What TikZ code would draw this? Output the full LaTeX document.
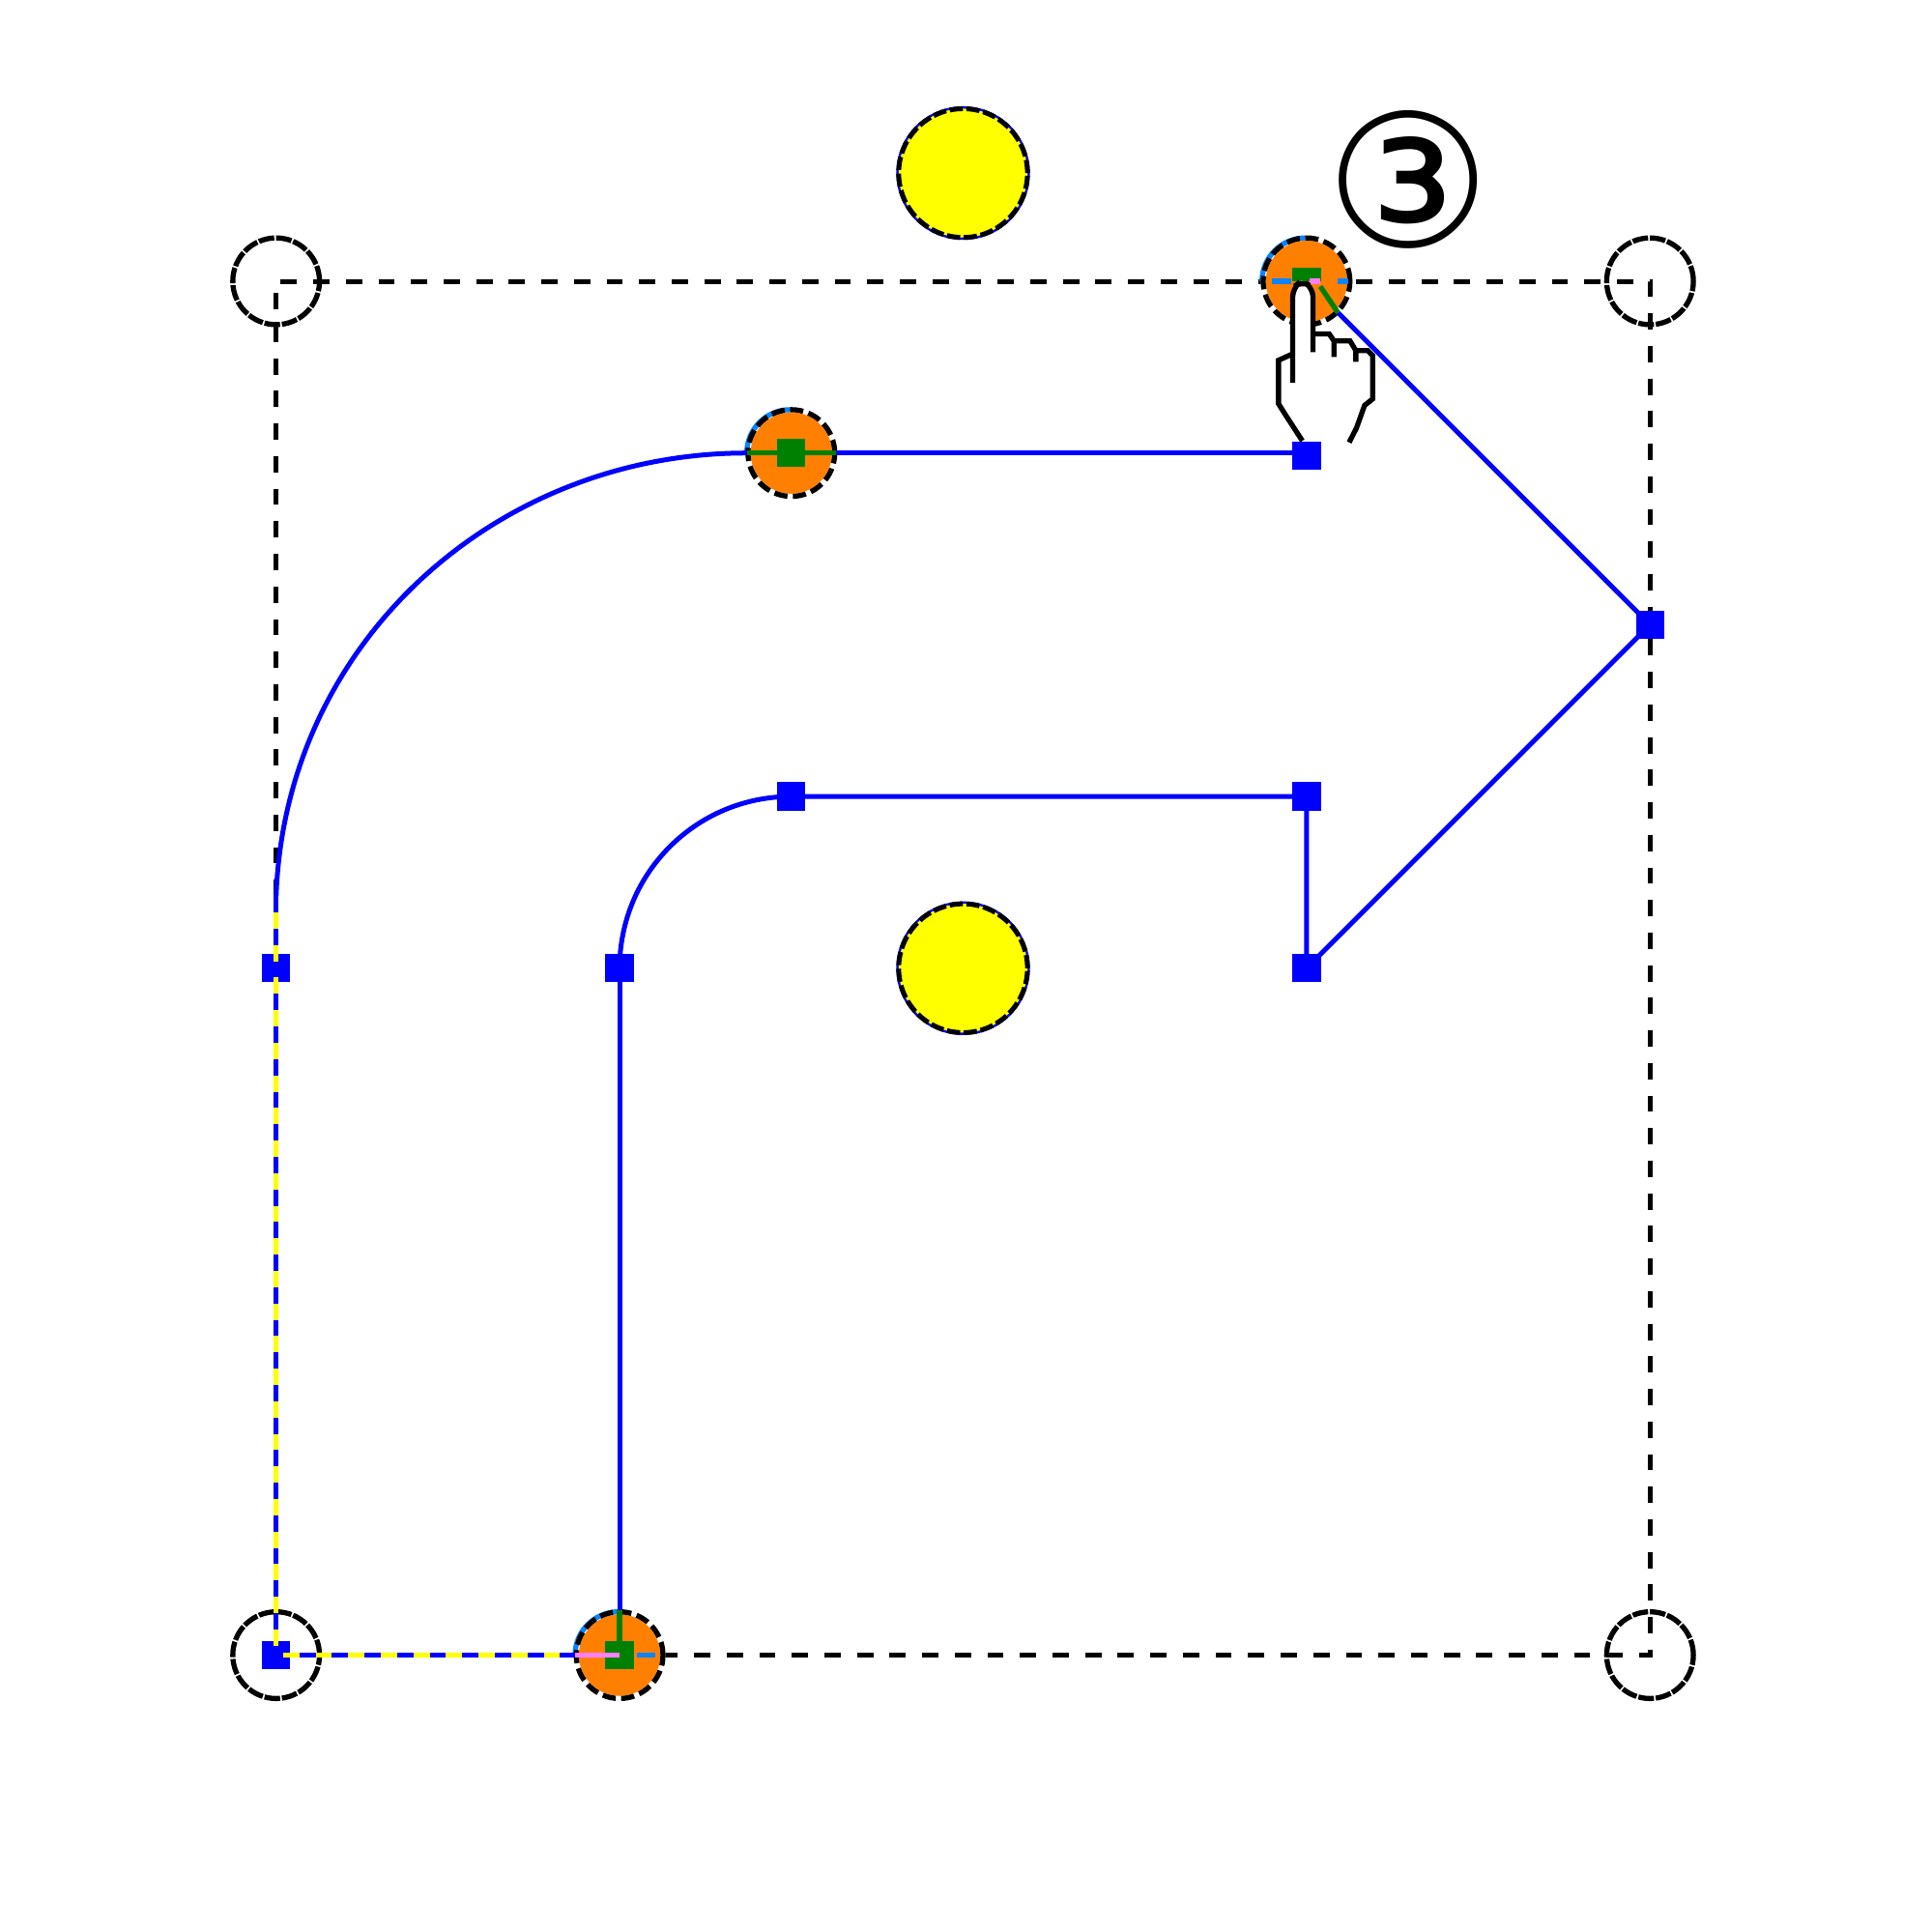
\documentclass[tikz,border=0pt]{standalone}
\usepackage{fontspec}
\newfontfamily\markfont{DejaVu Sans}
\definecolor{handorange}{HTML}{FF8000}
\definecolor{handgreen}{HTML}{008000}
\definecolor{handsky}{HTML}{0A84FF}
\definecolor{handpink}{HTML}{FF80FF}
\definecolor{handyellow}{HTML}{FFFF00}
\definecolor{handblue}{HTML}{0000FF}
\tikzset{
  frameline/.style={black, line width=0.8pt, dash pattern=on 2.7pt off 2.7pt},
  pathline/.style={handblue, line width=0.8pt},
  cornerdot/.style={circle, draw=black, line width=0.85pt, inner sep=0, minimum size=0.505cm, dash pattern=on 2.6pt off 0.3pt},
  activedot/.style={circle, fill=handorange, inner sep=0, minimum size=0.505cm},
  yellowdot/.style={circle, fill=handyellow, draw=black, line width=0.8pt, inner sep=0, minimum size=0.75cm, dash pattern=on 2.2pt off 0.6pt, preaction={draw=handblue, solid}},
  bluesq/.style={rectangle, fill=handblue, inner sep=0, minimum size=0.165cm},
  greensq/.style={rectangle, fill=handgreen, inner sep=0, minimum size=0.165cm},
}
\begin{document}
\begin{tikzpicture}
\useasboundingbox (-1.608,-1.611) rectangle (9.642,9.638);
% handles of the box
\node (cornerA) [cornerdot] at (0,0) {};
\node (cornerB) [cornerdot] at (8,0) {};
\node (cornerC) [cornerdot] at (8,8) {};
\node (cornerD) [cornerdot] at (0,8) {};
\coordinate (curveA) at (0,4.42);
\node (sunA) [yellowdot] at (4,8.63) {};
\node (sunB) [yellowdot] at (4,4) {};
\draw[frameline] (curveA.center)--(cornerD.center)--(cornerC.center)--(cornerB.center)--(cornerA.center);
% selected handles
\node (activeA) [activedot] at (2,0) {};
\node (activeB) [activedot] at (3,7) {};
\node (activeC) [activedot] at (6,8) {};
\foreach \n in {activeA,activeB,activeC}{
  \draw[white, line width=0.85pt] (\n.center) circle (0.2525);
  \draw[handsky, line width=0.85pt] (\n.west) arc (180:90:0.2525);
  \draw[black, line width=0.85pt, dash pattern=on 2.2pt off 0.9pt] (\n.center) circle (0.2525);
}
% points of the arrow
\node (ptA) [bluesq] at (0,4) {};
\node (ptB) [bluesq] at (0,0) {};
\node (ptC) [bluesq] at (2,4) {};
\node (ptD) [bluesq] at (3,5) {};
\node (ptE) [bluesq] at (6,5) {};
\node (ptF) [bluesq] at (6,4) {};
\node (ptG) [bluesq] at (8,6) {};
\node (ptH) [bluesq] at (6,6.985) {};
\node (greenA) [greensq] at (2,0) {};
\node (greenB) [greensq] at (3,7) {};
\node (greenC) [greensq, minimum height=0.075cm] at (6,8.04) {};
% outline
\draw[handyellow, line width=0.85pt] (curveA.center)--(ptB.center)--(activeA.west);
\draw[pathline, dash pattern=on 2.7pt off 2.7pt] (curveA.center)--(ptB.center)--(activeA.west);
\draw[pathline] (curveA.center) to [out=88, in=180] (activeB.west);
\draw[pathline] (activeB.east)--(ptH.center|-activeB.center);
\draw[pathline] (activeC.south east)--(ptG.center)--(ptF.center)--(ptE.center)--(ptD.center);
\draw[pathline] (ptD.center) to [out=180, in=90] (ptC.center);
\draw[pathline] (ptC.center)--(activeA.north);
% colours inside the selected handles
\draw[handgreen, line width=0.85pt] (activeB.west)--(activeB.east);
\draw[handgreen, line width=0.85pt] (activeA.west)--(activeA.center);
\draw[handgreen, line width=0.85pt] (activeA.north)--(activeA.center);
\draw[handpink, line width=0.85pt] (activeA.center)+(-0.2,0)--+(0,0);
\draw[handpink, line width=0.85pt] (activeA.west)--+(0.1,0);
\draw[handsky, line width=0.85pt] (activeA.center)+(0.1,0)--+(0.21,0);
\draw[handsky, line width=0.85pt] (activeC.center)+(-0.2,0)--+(-0.09,0);
\draw[handsky, line width=0.85pt] (activeC.center)+(0.18,0)--+(0.24,0);
\draw[handpink, line width=0.85pt] (activeC.center)+(0.02,0)--+(0.08,0);
\draw[handgreen, line width=0.85pt] (activeC.center)+(0.08,-0.03)--(activeC.south east);
\node (mark) [inner sep=0, font=\markfont\fontsize{30.6}{30.6}\selectfont] at (6.594,8.59) {③};
% the pointer
\begin{scope}[shift={(5.4278,9.1351)}, x=0.001876cm, y=-0.001876cm]
\fill[white] (290,603)--(325,625)--(325,765)--(380,770)--(390,790)--(440,790)--(460,820)--(510,830)--(510,970)--(480,1000)--(440,1105)--(290,1100)--(240,1020)--(215,985)--(215,850)--(262,830)--(262,625)--cycle;
\draw[black, line width=0.85pt, rounded corners=1.5pt] (262,920)--(262,625)--(290,603)--(325,625)--(325,825);
\draw[black, line width=0.85pt] (325,768)--(375,768)--(390,790)--(390,840);
\draw[black, line width=0.85pt] (390,790)--(440,790)--(458,820)--(458,855);
\draw[black, line width=0.85pt] (458,820)--(495,820)--(510,835)--(510,970)--(485,990)--(460,1060)--(437,1105);
\draw[black, line width=0.85pt] (262,830)--(218,850)--(218,985)--(240,1020)--(292,1100);
\end{scope}
\end{tikzpicture}
\end{document}
